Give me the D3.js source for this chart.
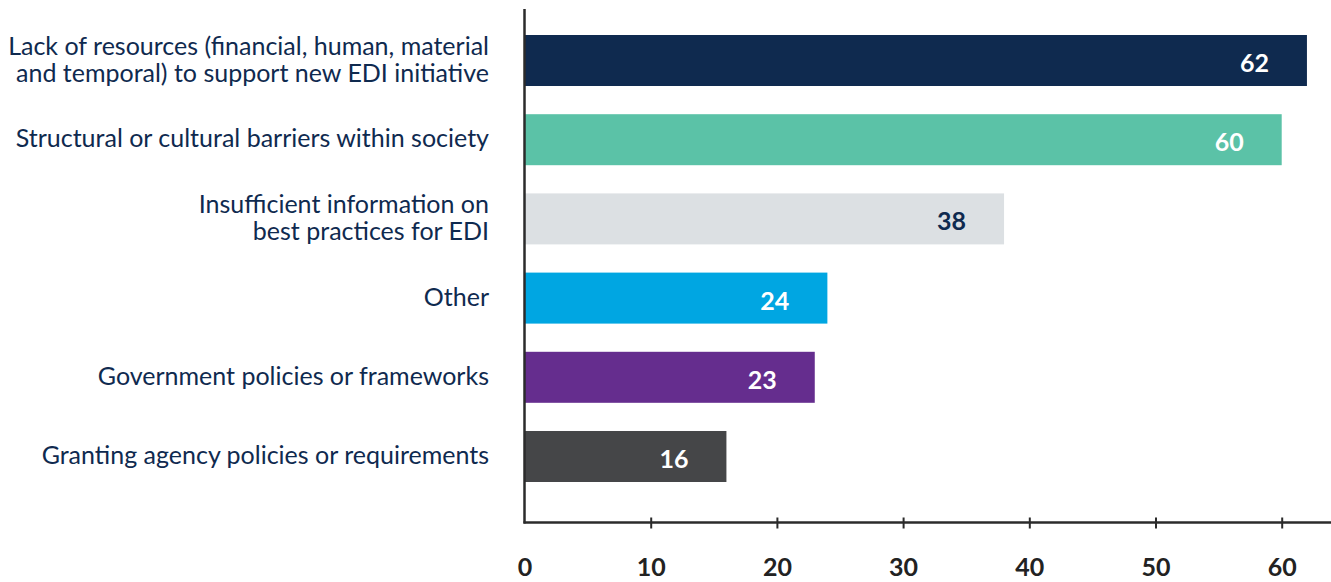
<!DOCTYPE html>
<html>
<head>
<meta charset="utf-8">
<script src="https://cdn.jsdelivr.net/npm/d3@7"></script>
<style>
  html, body { margin: 0; padding: 0; background: #fff; }
  svg { display: block; }
</style>
</head>
<body>
<svg id="chart" width="1331" height="582"></svg>
<script>
// Barriers to EDI initiatives – number of responses
const categories = [
  ["Lack of resources (financial, human, material", "and temporal) to support new EDI initiative"],
  ["Structural or cultural barriers within society"],
  ["Insufficient information on", "best practices for EDI"],
  ["Other"],
  ["Government policies or frameworks"],
  ["Granting agency policies or requirements"]
];
const values = [62, 60, 38, 24, 23, 16];
const barColors = ["#0f2a4f", "#5bc2a7", "#dce0e3", "#00a6e2", "#652d8e", "#454648"];
const valueColors = ["#ffffff", "#ffffff", "#0f2a4f", "#ffffff", "#ffffff", "#ffffff"];
const tickValues = [0, 10, 20, 30, 40, 50, 60];

const svg = d3.select("#chart");
const left = 524.5, right = 1331, axisY = 522.5;
const font = "Lato, 'Open Sans', sans-serif";

const x = d3.scaleLinear().domain([0, 60]).range([left, 1281.7]);
const y = d3.scaleBand()
  .domain(d3.range(values.length))
  .range([35, 482])
  .paddingInner(0.356)
  .paddingOuter(0);

// bars
svg.append("g").selectAll("rect")
  .data(values)
  .join("rect")
  .attr("x", x(0))
  .attr("y", (d, i) => y(i))
  .attr("width", d => x(d) - x(0))
  .attr("height", y.bandwidth())
  .attr("fill", (d, i) => barColors[i]);

// value labels inside bar ends
svg.append("g").selectAll("text")
  .data(values)
  .join("text")
  .attr("x", d => x(d) - 38)
  .attr("y", (d, i) => y(i) + y.bandwidth() / 2 + 2.5)
  .attr("dy", "0.36em")
  .attr("text-anchor", "end")
  .attr("font-family", font)
  .attr("font-weight", 700)
  .attr("font-size", 25)
  .attr("fill", (d, i) => valueColors[i])
  .text(d => d);

// category labels, right aligned against the axis
const lineH = 27;
const cat = svg.append("g");
categories.forEach((lines, i) => {
  const cy = y(i) + y.bandwidth() / 2 - 1.5;
  const t = cat.append("text")
    .attr("text-anchor", "end")
    .attr("font-family", font)
    .attr("font-size", 25)
    .attr("fill", "#0f2a4f");
  lines.forEach((ln, j) => {
    t.append("tspan")
      .attr("x", 489)
      .attr("y", cy + (j - (lines.length - 1) / 2) * lineH)
      .attr("dy", "0.36em")
      .text(ln);
  });
});

// x axis
const xAxis = d3.axisBottom(x).tickValues(tickValues).tickSize(0).tickPadding(0);
const gx = svg.append("g").attr("transform", `translate(0,${axisY})`).call(xAxis);
gx.select(".domain").remove();
gx.selectAll(".tick text")
  .attr("y", 53.5)
  .attr("dy", null)
  .attr("font-family", font)
  .attr("font-weight", 700)
  .attr("font-size", 25)
  .attr("fill", "#222");
gx.selectAll(".tick").filter(d => d !== 0)
  .append("line")
  .attr("y1", -5).attr("y2", 6)
  .attr("stroke", "#2b2b2b").attr("stroke-width", 2);

svg.append("line")
  .attr("x1", left - 1).attr("x2", right)
  .attr("y1", axisY).attr("y2", axisY)
  .attr("stroke", "#2b2b2b").attr("stroke-width", 2.5);

// y axis line
svg.append("line")
  .attr("x1", left).attr("x2", left)
  .attr("y1", 9).attr("y2", axisY + 1)
  .attr("stroke", "#2b2b2b").attr("stroke-width", 2.5);
</script>
</body>
</html>
